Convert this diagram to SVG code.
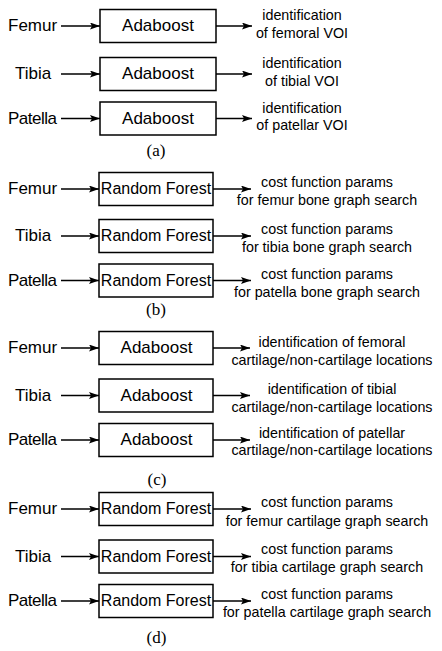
<svg xmlns="http://www.w3.org/2000/svg" width="442" height="651" viewBox="0 0 442 651">
<style>
.bg{fill:#fff}
.box{fill:#fff;stroke:#000;stroke-width:1.5}
.in{font-family:"Liberation Sans",Arial,sans-serif;font-size:17px;fill:#000}
.ada{font-family:"Liberation Sans",Arial,sans-serif;font-size:17px;fill:#000;text-anchor:middle}
.rf{font-family:"Liberation Sans",Arial,sans-serif;font-size:16px;fill:#000;text-anchor:middle}
.out{font-family:"Liberation Sans",Arial,sans-serif;font-size:14.3px;fill:#000;text-anchor:middle}
.cap{font-family:"Liberation Serif","Times New Roman",serif;font-size:17px;fill:#000;text-anchor:middle}
.ln{stroke:#000;stroke-width:1.4;fill:none;marker-end:url(#ah)}
</style>
<defs>
<marker id="ah" markerUnits="userSpaceOnUse" markerWidth="10" markerHeight="7" refX="10" refY="3.5" orient="auto">
<path d="M0,0 L10,3.5 L0,7 L2,3.5 z" fill="#000"/>
</marker>
</defs>
<rect class="bg" x="0" y="0" width="442" height="651"/>

<g id="connectors">
<!-- (a) -->
<line class="ln" x1="61" y1="26" x2="100" y2="26"/>
<line class="ln" x1="61" y1="74" x2="100" y2="74"/>
<line class="ln" x1="61" y1="118.5" x2="100" y2="118.5"/>
<line class="ln" x1="216" y1="26" x2="252" y2="26"/>
<line class="ln" x1="216" y1="74" x2="252" y2="74"/>
<line class="ln" x1="216" y1="118.5" x2="252" y2="118.5"/>
<!-- (b) -->
<line class="ln" x1="61" y1="189" x2="99" y2="189"/>
<line class="ln" x1="61" y1="236" x2="99" y2="236"/>
<line class="ln" x1="61" y1="280.5" x2="99" y2="280.5"/>
<line class="ln" x1="213" y1="189" x2="251" y2="189"/>
<line class="ln" x1="213" y1="236" x2="251" y2="236"/>
<line class="ln" x1="213" y1="280.5" x2="251" y2="280.5"/>
<!-- (c) -->
<line class="ln" x1="61" y1="348" x2="99" y2="348"/>
<line class="ln" x1="61" y1="395.5" x2="99" y2="395.5"/>
<line class="ln" x1="61" y1="440" x2="99" y2="440"/>
<line class="ln" x1="213" y1="348" x2="250" y2="348"/>
<line class="ln" x1="213" y1="395.5" x2="250" y2="395.5"/>
<line class="ln" x1="213" y1="440" x2="250" y2="440"/>
<!-- (d) -->
<line class="ln" x1="61" y1="509" x2="99" y2="509"/>
<line class="ln" x1="61" y1="556.5" x2="99" y2="556.5"/>
<line class="ln" x1="61" y1="601" x2="99" y2="601"/>
<line class="ln" x1="213" y1="509" x2="251" y2="509"/>
<line class="ln" x1="213" y1="556.5" x2="251" y2="556.5"/>
<line class="ln" x1="213" y1="601" x2="251" y2="601"/>
</g>

<!-- Panel (a) -->
<g id="a-femur-in"><text class="in" x="8" y="31">Femur</text></g>
<g id="a-tibia-in"><text class="in" x="15" y="79">Tibia</text></g>
<g id="a-patella-in"><text class="in" x="8" y="123.5" textLength="49">Patella</text></g>
<g id="a-femur-node"><rect class="box" x="100" y="9.5" width="116" height="33"/><text class="ada" x="158" y="31">Adaboost</text></g>
<g id="a-tibia-node"><rect class="box" x="100" y="57.5" width="116" height="33"/><text class="ada" x="158" y="79">Adaboost</text></g>
<g id="a-patella-node"><rect class="box" x="100" y="102" width="116" height="33"/><text class="ada" x="158" y="123.5">Adaboost</text></g>
<g id="a-femur-out"><text class="out" x="302" y="20">identification</text><text class="out" x="302" y="37.5">of femoral VOI</text></g>
<g id="a-tibia-out"><text class="out" x="302" y="68">identification</text><text class="out" x="302" y="85.5">of tibial VOI</text></g>
<g id="a-patella-out"><text class="out" x="302" y="112.5">identification</text><text class="out" x="302" y="130">of patellar VOI</text></g>
<g id="a-caption"><text class="cap" x="156" y="156">(a)</text></g>

<!-- Panel (b) -->
<g id="b-femur-in"><text class="in" x="8" y="194">Femur</text></g>
<g id="b-tibia-in"><text class="in" x="15" y="241">Tibia</text></g>
<g id="b-patella-in"><text class="in" x="8" y="285.5" textLength="49">Patella</text></g>
<g id="b-femur-node"><rect class="box" x="99" y="172.5" width="114" height="33"/><text class="rf" x="156" y="194">Random Forest</text></g>
<g id="b-tibia-node"><rect class="box" x="99" y="219.5" width="114" height="33"/><text class="rf" x="156" y="241">Random Forest</text></g>
<g id="b-patella-node"><rect class="box" x="99" y="264" width="114" height="33"/><text class="rf" x="156" y="285.5">Random Forest</text></g>
<g id="b-femur-out"><text class="out" x="327" y="187.3">cost function params</text><text class="out" x="327" y="205">for femur bone graph search</text></g>
<g id="b-tibia-out"><text class="out" x="327" y="234.3">cost function params</text><text class="out" x="327" y="252">for tibia bone graph search</text></g>
<g id="b-patella-out"><text class="out" x="327" y="278.8">cost function params</text><text class="out" x="327" y="296.5">for patella bone graph search</text></g>
<g id="b-caption"><text class="cap" x="156" y="315">(b)</text></g>

<!-- Panel (c) -->
<g id="c-femur-in"><text class="in" x="8" y="353">Femur</text></g>
<g id="c-tibia-in"><text class="in" x="15" y="400.5">Tibia</text></g>
<g id="c-patella-in"><text class="in" x="8" y="445" textLength="49">Patella</text></g>
<g id="c-femur-node"><rect class="box" x="99" y="331.5" width="114" height="33"/><text class="ada" x="156.5" y="353">Adaboost</text></g>
<g id="c-tibia-node"><rect class="box" x="99" y="379" width="114" height="33"/><text class="ada" x="156.5" y="400.5">Adaboost</text></g>
<g id="c-patella-node"><rect class="box" x="99" y="423.5" width="114" height="33"/><text class="ada" x="156.5" y="445">Adaboost</text></g>
<g id="c-femur-out"><text class="out" x="332" y="347.3">identification of femoral</text><text class="out" x="332" y="365">cartilage/non-cartilage locations</text></g>
<g id="c-tibia-out"><text class="out" x="332" y="394">identification of tibial</text><text class="out" x="332" y="411.7">cartilage/non-cartilage locations</text></g>
<g id="c-patella-out"><text class="out" x="332" y="438.3">identification of patellar</text><text class="out" x="332" y="455">cartilage/non-cartilage locations</text></g>
<g id="c-caption"><text class="cap" x="157" y="485">(c)</text></g>

<!-- Panel (d) -->
<g id="d-femur-in"><text class="in" x="8" y="514">Femur</text></g>
<g id="d-tibia-in"><text class="in" x="15" y="561.5">Tibia</text></g>
<g id="d-patella-in"><text class="in" x="8" y="606" textLength="49">Patella</text></g>
<g id="d-femur-node"><rect class="box" x="99" y="492.5" width="114" height="33"/><text class="rf" x="156" y="514">Random Forest</text></g>
<g id="d-tibia-node"><rect class="box" x="99" y="540" width="114" height="33"/><text class="rf" x="156" y="561.5">Random Forest</text></g>
<g id="d-patella-node"><rect class="box" x="99" y="584.5" width="114" height="33"/><text class="rf" x="156" y="606">Random Forest</text></g>
<g id="d-femur-out"><text class="out" x="327" y="507.3">cost function params</text><text class="out" x="327" y="525.7">for femur cartilage graph search</text></g>
<g id="d-tibia-out"><text class="out" x="327" y="554">cost function params</text><text class="out" x="327" y="571.7">for tibia cartilage graph search</text></g>
<g id="d-patella-out"><text class="out" x="327" y="599">cost function params</text><text class="out" x="327" y="616.7">for patella cartilage graph search</text></g>
<g id="d-caption"><text class="cap" x="156.5" y="643">(d)</text></g>
</svg>
